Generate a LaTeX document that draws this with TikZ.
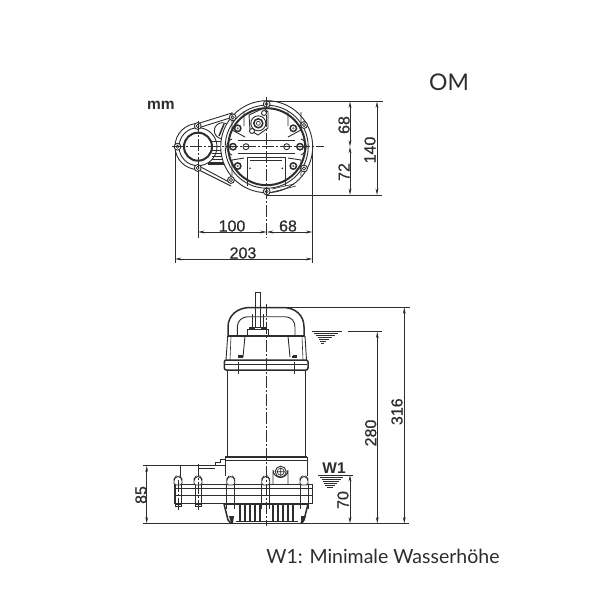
\documentclass[tikz,border=0pt]{standalone}
\usepackage{fontspec}
\setmainfont{Liberation Sans}
\newfontfamily\capfont{Lato}
\newfontfamily\dimfont[FakeBold=0.5]{Liberation Sans}
\usetikzlibrary{arrows.meta}
\definecolor{ink}{RGB}{45,45,45}
\tikzset{
  part/.style={draw=ink,line width=0.9pt},
  thick part/.style={draw=ink,line width=1.5pt},
  heavy part/.style={draw=ink,line width=2pt},
  thin part/.style={draw=ink,line width=0.6pt},
  extline/.style={draw=ink,line width=0.8pt},
  centre/.style={draw=ink,line width=0.6pt,dash pattern=on 12pt off 2pt on 2pt off 2pt},
  dimline/.style={draw=ink,line width=0.8pt,{Stealth[length=6.5pt,width=2.8pt]}-{Stealth[length=6.5pt,width=2.8pt]}},
  lab/.style={font=\dimfont\fontsize{16}{16}\selectfont,text=ink,inner sep=0pt},
  vlab/.style={lab,rotate=90},
  captext/.style={text=ink,inner sep=0pt},
}
\begin{document}
\begin{tikzpicture}[x=1pt,y=-1pt]
\useasboundingbox[fill=white] (0,0) rectangle (600,600);
% ---------- texts
\node[captext,font=\capfont\fontsize{23}{23}\selectfont] (om) at (449,82) {OM};
\node[captext,font=\capfont\fontsize{19.5}{20}\selectfont] (w1cap) at (383,556) {W1: Minimale Wasserhöhe};
\node[lab,font=\bfseries\fontsize{15.5}{15.5}\selectfont] (mm) at (161,105) {mm};
% ---------- top view: flange
\draw[part] (232,113) -- (198,123.5) arc (-90:-270:23) -- (231,186);
\draw[part] (233,117) -- (198,128) ;
\draw[part] (198,165.5) -- (229,182);
\draw[heavy part] (198,146.7) circle (14);
\draw[part] (198,146.7) circle (19);
\draw[thin part] (212,141)--(228,141) (212,150)--(227,150) (212,153)--(227,153) (212,156)--(227,156) (212,159)--(227,159);
\draw[draw=ink,line width=3pt] (208,163.5)--(227,163.5);
\draw[part] (222.3,130.7) circle (8);
\draw[thick part] (219,136)--(224,124);
% ---------- top view: body
\draw[part,fill=white] (266.7,146.7) circle (46);
\draw[part] (266.7,146.7) circle (41.5);
\draw[heavy part] (266.7,146.7) circle (38.5);
% lugs on the rim
\foreach \x/\y in {177.5/146.7,197.7/126,197.7/168,232.7/117.3,231/180,304/125,304/168.5,266.7/104,266.7/191.5}{
  \draw[part,fill=white] (\x,\y) circle (3.4);
  \draw[thin part] (\x,\y) circle (1.6);
}
% inner bar, rectangle
\draw[part] (238,140.5)--(295,140.5) (238,153)--(295,153);
\draw[part] (232,139) .. controls (225,141) and (225,152) .. (232,155);
\draw[part] (301,139) .. controls (308,141) and (308,152) .. (301,155);
\draw[part] (247,157)--(285,157) (247,157)--(247,186) (285,157)--(285,186);
\draw[thin part] (250,160)--(282,160);
\fill[ink] (250,168.3) circle (0.9) (282.3,168.3) circle (0.9);
% corner pockets
\draw[part] (232,112)--(232,130)--(245,137)  (244,111)--(244,126);
\draw[part] (301,112)--(301,130)--(288,137)  (288,111)--(288,126);
\draw[part] (232,160)--(244,158)  (232,160)--(232,176);
\draw[part] (301,160)--(288,158)  (301,160)--(301,176);
\foreach \x/\y in {237.7/128.3,293.3/128.3,237.7/166,293.3/166,233/146.7,300/146.7}{
  \draw[thick part,fill=white] (\x,\y) circle (3.2);
  \fill[ink!70] (\x,\y) circle (1.2);
}
\foreach \x in {246,286.7}{ \draw[part] (\x,146.7) circle (3); }
% gland
\draw[part] (249,115)--(264,108)--(268,112)--(268,128)--(258,135)--(250,130)--cycle;
\draw[part] (258.3,123.3) circle (7.5);
\draw[thick part] (258.3,123.3) circle (4.5);
\draw[thin part] (258.3,123.3) circle (2);
\draw[part,fill=white] (252,131) circle (2.5);
\draw[part,fill=white] (264,113) circle (2.5);
% rim bottom detail
\draw[thin part] (272,192)--(296,186) (272,189)--(294,184);
% centre lines, top view
\coordinate (cl) at (172,146.7);
\coordinate (cr) at (324,146.7);
\draw[centre] (cl)--(cr);
\coordinate (ct) at (266.7,97);
\coordinate (cb) at (266.7,238);
\draw[centre] (ct)--(cb);
\coordinate (f1) at (198,121);
\coordinate (f2) at (198,170);
\coordinate (f3) at (198,238);
\draw[centre] (f1)--(f2);
\draw[extline] (f2)--(f3);
% extension lines, top view
\coordinate (e1) at (175,150);
\coordinate (e2) at (175,263);
\coordinate (e3) at (312.5,147);
\coordinate (e4) at (312.5,263);
\draw[extline] (e1)--(e2) (e3)--(e4);
\coordinate (e5) at (266,101.5);
\coordinate (e6) at (383,101.5);
\coordinate (e7) at (266,195);
\coordinate (e8) at (382,195);
\draw[extline] (e5)--(e6) (e7)--(e8);
% dimensions, top view
\coordinate (d1) at (350,101.5);
\coordinate (d2) at (350,146.7);
\coordinate (d3) at (350,195);
\coordinate (d4) at (377,101.5);
\coordinate (d5) at (377,195);
\draw[dimline] (d1)--(d2);
\draw[dimline] (d2)--(d3);
\draw[dimline] (d4)--(d5);
\coordinate (d6) at (198,232);
\coordinate (d7) at (266.7,232);
\coordinate (d8) at (312.5,232);
\coordinate (d9) at (175,259);
\coordinate (d10) at (312.5,259);
\draw[dimline] (d6)--(d7);
\draw[dimline] (d7)--(d8);
\draw[dimline] (d9)--(d10);
\node[vlab] (l68v) at (344,125) {68};
\node[vlab] (l72) at (344,172) {72};
\node[vlab] (l140) at (370,150) {140};
\node[lab] (l100) at (232,226) {100};
\node[lab] (l68h) at (288,226) {68};
\node[lab] (l203) at (243,253) {203};
% ---------- side view: cable and handle
\draw[part,fill=white] (255.3,292)--(260.7,292)--(260.7,327)--(255.3,327)--cycle;
\draw[thick part] (228,336) -- (228,327) .. controls (228,315) and (238,307.5) .. (250,307.5) -- (283,307.5) .. controls (295,307.5) and (304,315) .. (304,327) -- (304,336);
\draw[part] (237.3,336) -- (237.3,327) .. controls (237.3,321) and (242,316.7) .. (248,316.7) -- (285,316.7) .. controls (291,316.7) and (295,321) .. (295,327) -- (295,336);
\draw[part,fill=white] (247.5,329) rectangle (268,336);
\draw[thick part] (249,328)--(255,328) (261,328)--(267,328);
\draw[thin part] (252,314)--(252,329) (263,314)--(263,329);
% cap
\draw[thick part] (227.7,336)--(305,336);
\draw[part] (227.7,336)--(226,360) (305,336)--(306.5,360);
\draw[thin part] (231,336)--(230,360) (302,336)--(303,360);
\draw[part] (245,336)--(243,357) (288,336)--(290,357);
\draw[thick part] (238,357)--(243,357) (292,357)--(297,357);
\draw[draw=ink,line width=2pt] (238,355.5)--(243,355.5) (293,355.5)--(297,355.5);
\draw[thick part,rounded corners=2pt] (224.3,360) rectangle (308,370);
\draw[thin part] (225,364)--(307,364);
% body
\draw[thick part] (227.3,370)--(227.3,457) (305.7,370)--(305.7,457);
% lower housing
\draw[draw=ink,line width=1.8pt] (225,457)--(307,457);
\draw[part] (225,457)--(225,476) (307,457)--(307,476);
\draw[thin part] (225,460)--(307,460);
% terminal lug
\draw[part] (273,485)--(273,470) arc (180:0:7.5) -- (288,485);
\draw[part] (280.7,471.7) circle (5.5);
\draw[thin part] (280.7,471.7) circle (3.5) (276.5,471.7)--(285,471.7) (280.7,467.5)--(280.7,476);
% discharge top
\draw[part] (180,484)--(180,465.7)--(215,465.7)--(215,462)--(220,462)--(220,459)--(225,459);
\draw[thin part] (198,468)--(215,468) (215,465)--(225,465);
% flange plate
\draw[thick part] (174.3,484.5) -- (312.5,484.5) -- (312.5,503.5) -- (174.3,503.5) -- cycle;
\draw[part] (174.3,488)--(312.5,488) (174.3,495)--(312.5,495);
\draw[draw=ink,line width=1.6pt] (224,504.5)--(308,504.5);
% bolts
\foreach \x in {178,198,230.7,265.7,304}{
  \draw[part,fill=white,rounded corners=2pt] (\x-4,485)--(\x-4,479)--(\x-2,476.5)--(\x+2,476.5)--(\x+4,479)--(\x+4,485)--cycle;
}
\foreach \x in {178,198}{
  \draw[thin part] (\x-3,485)--(\x-3,504) (\x+3,485)--(\x+3,504);
  \draw[part,fill=white] (\x-3,504) rectangle (\x+3,506.5);
}
\foreach \x in {230.7,265.7,304}{
  \draw[part] (\x-4,485)--(\x-4,509) (\x+4,485)--(\x+4,509);
}
% strainer
\draw[thick part] (224,504)--(228,520)--(231,523.3) (308,504)--(304,520)--(301,523.3);
\foreach \x in {240,245,250,255,260,273,278,283,288,293}{
  \draw[draw=ink,line width=1.2pt] (\x,505)--(\x,521);
}
\fill[ink] (229,516)--(234,516)--(233,523)--(231,523)--cycle;
\fill[ink] (301,516)--(306,516)--(303,523)--(301,523)--cycle;
\draw[thin part] (236,521.5)--(298,521.5);
% centre lines, side view
\coordinate (c1) at (266.7,304);
\coordinate (c2) at (266.7,526);
\draw[centre] (c1)--(c2);
\coordinate (c3) at (198,464);
\coordinate (c4) at (198,510);
\draw[centre] (c3)--(c4);
\coordinate (c5) at (178,480);
\coordinate (c6) at (178,510);
\draw[centre] (c5)--(c6);
\coordinate (c7) at (238,362);
\coordinate (c8) at (238,374);
\coordinate (c9) at (294,362);
\coordinate (c10) at (294,374);
\draw[centre] (c7)--(c8) (c9)--(c10);
% water marks
\foreach \y/\a/\b in {0/311.7/342,2/314/338,4/316/335,6/317.5/332,8/319/329,10/320/326,12/321/323.5}{
  \draw[ink,line width=0.8pt] (\a,331.7+\y)--(\b,331.7+\y);
}
\foreach \y/\a/\b in {0/318/346,2/320/343,4/322/341,6/323/339,8/324/337,10/325/335,12/327/333}{
  \draw[ink,line width=0.8pt] (\a,475+\y)--(\b,475+\y);
}
% extension lines, side view
\coordinate (s1) at (270,307.3);
\coordinate (s2) at (410,307.3);
\draw[extline] (s1)--(s2);
\coordinate (s4) at (348.3,331.7);
\coordinate (s5) at (381.7,331.7);
\draw[extline] (s4)--(s5);
\coordinate (s6) at (346,475);
\coordinate (s7) at (352.7,475);
\draw[extline] (s6)--(s7);
\coordinate (s8) at (143,465.7);
\coordinate (s9) at (180,465.7);
\draw[extline] (s8)--(s9);
\coordinate (g1) at (143,523.5);
\coordinate (g2) at (409,523.5);
\draw[extline,line width=1pt] (g1)--(g2);
% dimensions, side view
\coordinate (a1) at (404.3,307.3);
\coordinate (a2) at (404.3,523.5);
\coordinate (b1) at (377.3,331.7);
\coordinate (b2) at (377.3,523.5);
\coordinate (k1) at (350,475);
\coordinate (k2) at (350,523.5);
\coordinate (m1) at (146.7,465.7);
\coordinate (m2) at (146.7,523.5);
\draw[dimline] (a1)--(a2);
\draw[dimline] (b1)--(b2);
\draw[dimline] (k1)--(k2);
\draw[dimline] (m1)--(m2);
\node[vlab] (l316) at (397,411.7) {316};
\node[vlab] (l280) at (370.7,433) {280};
\node[vlab] (l70) at (343,500) {70};
\node[vlab] (l85) at (141,495) {85};
\node[lab,font=\bfseries\fontsize{15.5}{15.5}\selectfont] (lw1) at (334,467.7) {W1};
\end{tikzpicture}
\end{document}
